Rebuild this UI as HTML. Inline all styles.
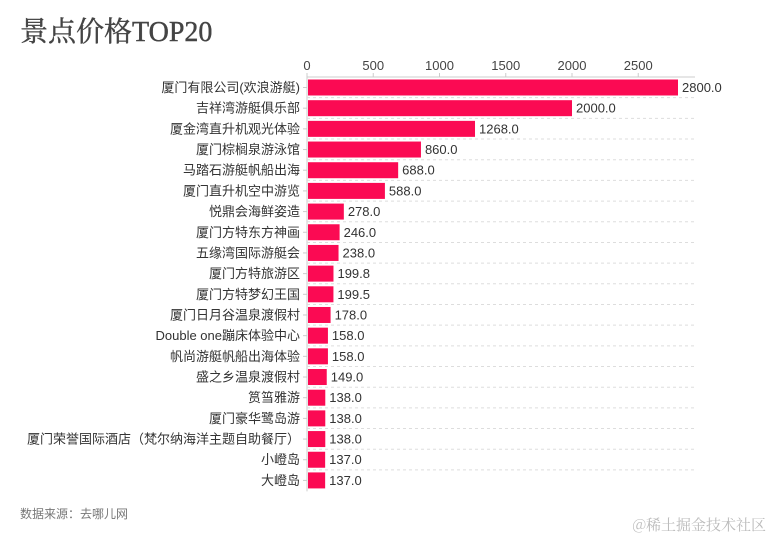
<!DOCTYPE html>
<html><head><meta charset="utf-8"><style>
body{margin:0;background:#fff;width:773px;height:540px;overflow:hidden}
svg{display:block}
</style></head><body>
<svg id="c" width="773" height="540" xmlns="http://www.w3.org/2000/svg">
<text x="20" y="41" font-family="'Liberation Serif','Noto Serif CJK SC',serif" font-weight="normal" font-size="28" fill="#444" stroke="#444" stroke-width="0.4">景点价格TOP20</text>
<text x="20" y="518" font-family="'Liberation Sans','Noto Sans CJK SC',sans-serif" font-size="12" fill="#777">数据来源：去哪儿网</text>
<text x="766" y="530" text-anchor="end" font-family="'Noto Serif CJK SC',serif" font-size="15" fill="#bbb">@稀土掘金技术社区</text>
<g id="g"></g>
</svg>
<script>
const categories=["厦门有限公司(欢浪游艇)","吉祥湾游艇俱乐部","厦金湾直升机观光体验","厦门棕榈泉游泳馆","马踏石游艇帆船出海","厦门直升机空中游览","悦鼎会海鲜姿造","厦门方特东方神画","五缘湾国际游艇会","厦门方特旅游区","厦门方特梦幻王国","厦门日月谷温泉渡假村","Double one蹦床体验中心","帆尚游艇帆船出海体验","盛之乡温泉渡假村","筼筜雅游","厦门豪华鹭岛游","厦门荣誉国际酒店（梵尔纳海洋主题自助餐厅）","小嶝岛","大嶝岛"];
const values=[2800,2000,1268,860,688,588,278,246,238,199.8,199.5,178,158,158,149,138,138,138,137,137];
const ticks=[0,500,1000,1500,2000,2500];
const NS="http://www.w3.org/2000/svg",g=document.getElementById('g');
const x0=307,kx=132.5/1000,y0=77,step=20.68,bh=16;
const xs=v=>x0+v*kx, ys=i=>y0+2.5+i*step;
const F="'Liberation Sans','Noto Sans CJK SC',sans-serif";
function mk(t,a){const e=document.createElementNS(NS,t);for(const k in a)e.setAttribute(k,a[k]);g.appendChild(e);return e;}
const ax=mk('line',{x1:x0,y1:y0,x2:695,y2:y0,stroke:'#ccc'});


const ay=mk('line',{x1:x0,y1:y0,x2:x0,y2:ys(19)+bh+3,stroke:'#ccc'});


ticks.forEach(t=>{
 const l=mk('line',{x1:xs(t),y1:y0-4,x2:xs(t),y2:y0,stroke:'#ccc'});
 
 
 const tx=mk('text',{x:xs(t),y:y0-7,'text-anchor':'middle','font-family':F,'font-size':13,fill:'#444'});
 tx.textContent=t;
 
 
});
categories.forEach((c,i)=>{
 const y=ys(i);
 if(i>0){const d=mk('line',{x1:x0,y1:y-2.5,x2:695,y2:y-2.5,stroke:'#ddd','stroke-dasharray':'3,3'});
 
 }
 const tk=mk('line',{x1:x0-4,y1:y+bh/2,x2:x0,y2:y+bh/2,stroke:'#ccc'});
 
 
 const r=mk('rect',{x:x0+1,y:y,width:xs(values[i])-x0-1,height:bh,fill:'#fb0a53'});
 
 
 const lb=mk('text',{x:x0-7,y:y+bh/2+4.5,'text-anchor':'end','font-family':F,'font-size':13,fill:'#333'});
 lb.textContent=c;
 
 
 const vl=mk('text',{x:xs(values[i])+4,y:y+bh/2+4.5,'font-family':F,'font-size':13,fill:'#333'});
 vl.textContent=values[i].toFixed(1);
 
 
});
</script>
</body></html>
